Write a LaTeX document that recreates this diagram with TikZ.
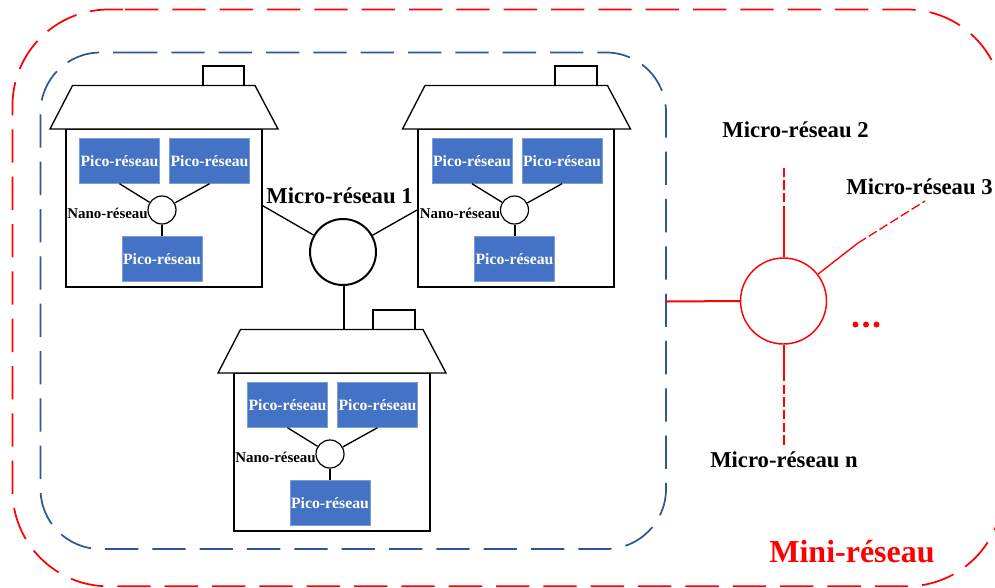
\documentclass[tikz,border=0pt]{standalone}
\usepackage{fontspec}
\setmainfont{Liberation Serif}
\definecolor{picoblue}{RGB}{68,114,196}
\definecolor{microblue}{RGB}{47,85,151}
\tikzset{
  pico/.style={rectangle,fill=picoblue,draw=picoblue!70!white,line width=.3pt,minimum width=60pt,minimum height=33.75pt,inner sep=0pt,text=white,font=\fontsize{11.8}{12}\selectfont\bfseries},
  nano/.style={circle,draw=black,line width=.9pt,minimum size=21pt,inner sep=0pt},
  wall/.style={rectangle,draw=black,line width=1.5pt,minimum width=147pt,minimum height=118pt,inner sep=0pt},
  chimney/.style={rectangle,draw=black,line width=1.5pt,minimum width=31pt,minimum height=15pt,inner sep=0pt},
  nanolbl/.style={inner sep=0pt,anchor=east,font=\fontsize{11.2}{12}\selectfont\bfseries},
  microlbl/.style={inner sep=0pt,font=\fontsize{17}{18}\selectfont\bfseries},
  redline/.style={red,line width=1.5pt},
  reddash/.style={red,line width=1.5pt,dash pattern=on 7pt off 2.5pt}
}
\begin{document}
\begin{tikzpicture}[x=.75pt,y=-.75pt]
        \useasboundingbox (0,0) rectangle (995,587);

        \draw [red,line width=1.3pt,dash pattern=on 25pt off 10.5pt,rounded corners=72pt] (125,9.5) -- (1003,9.5) -- (1003,586.3) -- (12.5,586.3) -- (12.5,9.5) -- (125,9.5);
        \draw [microblue,line width=1.3pt,dash pattern=on 25pt off 10.5pt,rounded corners=45pt] (124,52.5) -- (666,52.5) -- (666,549) -- (40.5,549) -- (40.5,52.5) -- (124,52.5);

        % the three houses
        \foreach \n/\dx/\dy/\cx in {a/0/0/0,b/352.5/0/0,c/168/244/2.5} {
          \node[wall] (\n wall) at (163.5+\dx,208+\dy) {};
          \node[chimney] (\n chim) at (223.5+\dx+\cx,75.5+\dy) {};
          \draw[black,line width=1pt,fill=white] (50+\dx,129+\dy) -- (72.5+\dx,85.5+\dy) -- (255+\dx,85.5+\dy) -- (278+\dx,129+\dy) -- cycle;
          \node[pico] (\n p1) at (119.5+\dx,161+\dy) {Pico-réseau};
          \node[pico] (\n p2) at (209.5+\dx,161+\dy) {Pico-réseau};
          \node[pico] (\n p3) at (162+\dx,259+\dy) {Pico-réseau};
          \node[nano] (\n nano) at (162+\dx,210+\dy) {};
          \node[nanolbl] (\n lbl) at (148+\dx,213+\dy) {Nano-réseau};
          \draw[black,line width=1pt] (\n p1.south) -- (\n nano);
          \draw[black,line width=1pt] (\n p2.south) -- (\n nano);
          \draw[black,line width=1.5pt] (\n p3.north) -- (\n nano);
        }

        % micro grid 1
        \node[circle,draw=black,line width=1.5pt,minimum size=49.5pt,inner sep=0pt] (micro) at (343,252) {};
        \node[microlbl] (micro1) at (339.5,196) {Micro-réseau 1};
        \coordinate (aport) at (261.5,205);
        \coordinate (bport) at (417,210);
        \coordinate (cport) at (343.5,329);
        \draw[black,line width=1pt] (aport) -- (micro);
        \draw[black,line width=1pt] (bport) -- (micro);
        \draw[black,line width=1.5pt] (cport) -- (micro.south-|cport);

        % mini grid
        \node[circle,draw=red,line width=1.1pt,minimum size=64.5pt,inner sep=0pt] (mini) at (783.5,301) {};
        \coordinate (edge) at (666,301.5);
        \coordinate (up) at (783.5,215);
        \coordinate (upend) at (783.5,167);
        \coordinate (side) at (858,243);
        \coordinate (sideend) at (925,201);
        \coordinate (down) at (783.5,372);
        \coordinate (downend) at (783.5,448);
        \draw[redline] (edge) -- (mini.west);
        \draw[redline] (up) -- (mini);
        \draw[redline,line width=1pt] (side) -- (mini);
        \draw[redline] (down) -- (mini);
        \draw[reddash] (up) -- (upend);
        \draw[reddash,line width=1pt] (side) -- (sideend);
        \draw[reddash] (down) -- (downend);

        \node[microlbl] (micro2) at (795.5,130) {Micro-réseau 2};
        \node[microlbl] (micro3) at (919.5,187) {Micro-réseau 3};
        \node[microlbl] (micron) at (784,460) {Micro-réseau n};
        \node[inner sep=0pt,text=red,font=\fontsize{24}{25}\selectfont\bfseries] (minilbl) at (852,552) {Mini-réseau};
        \foreach \n in {855.5,866,876.5} \fill[red] (\n,324.5) circle (3);
\end{tikzpicture}
\end{document}
